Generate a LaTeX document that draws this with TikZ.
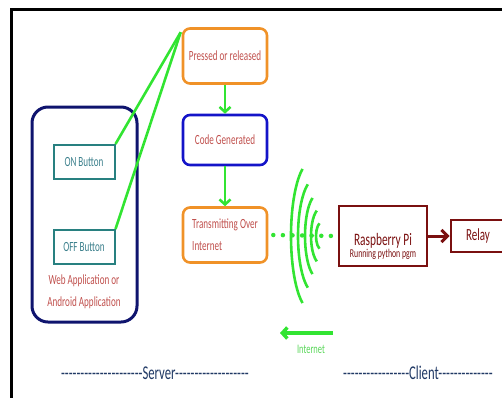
\documentclass[tikz,border=0pt]{standalone}
\usepackage{fontspec}
\setmainfont{Carlito}[FakeStretch=0.65]
\usetikzlibrary{arrows.meta}

\definecolor{boxorange}{RGB}{240,146,40}
\definecolor{codeblue}{RGB}{20,20,200}
\definecolor{appnavy}{RGB}{15,20,110}
\definecolor{btnteal}{RGB}{40,128,128}
\definecolor{btntext}{RGB}{60,128,140}
\definecolor{labelred}{RGB}{192,80,77}
\definecolor{netgreen}{RGB}{50,228,50}
\definecolor{nettext}{RGB}{90,215,90}
\definecolor{piered}{RGB}{122,16,16}
\definecolor{labelnavy}{RGB}{31,56,100}

\newcommand\dashrun[1]{\foreach \k in {1,...,#1}{-}}

\tikzset{
  flowbox/.style={draw,rounded corners=7pt,line width=2.6pt,
    minimum width=84pt,minimum height=55pt,text=labelred,
    font=\fontsize{14}{22}\selectfont},
  btnbox/.style={draw=btnteal,line width=2pt,minimum width=61pt,
    minimum height=34pt,text=btntext,font=\fontsize{14}{17}\selectfont},
  greenarrow/.style={draw=netgreen,line width=2.6pt,
    -{Straight Barb[length=5pt,width=11pt]}},
  greenline/.style={draw=netgreen,line width=2.6pt},
}

\begin{document}
\begin{tikzpicture}[x=1pt,y=-1pt]
	\useasboundingbox (0,0) rectangle (502,397);

	% frame
	\draw[line width=3pt] (11,400) -- (11,9) -- (505,9);

	% server side
	\draw[appnavy,line width=3pt,rounded corners=16pt] (32,107) rectangle (137,322);
	\node[btnbox] (on) at (84,162) {ON Button};
	\node[btnbox] (off) at (84,247) {OFF Button};
	\node[text=labelred,align=center,font=\fontsize{14}{22}\selectfont]
	  (webapp) at (84,292) {Web Application or\\Android Application};

	\node[flowbox,draw=boxorange] (press) at (225,56) {Pressed or released};
	\node[flowbox,draw=codeblue,minimum height=50pt] (code) at (225,140) {Code Generated};
	\node[flowbox,draw=boxorange,align=left] (trans) at (225,235) {Transmitting Over\\Internet};

	\draw[greenline] (on.north east) -- ([shift={(-1pt,-5pt)}]press.north west);
	\draw[greenline] (off.north east) -- ([shift={(-1pt,-5pt)}]press.north west);
	\draw[greenarrow] (press) -- (code);
	\draw[greenarrow] (code) -- (trans);

	% client side
	\node[draw=piered,line width=2.8pt,minimum width=88pt,minimum height=60pt] (rpi) at (383,236) {};
	\node[text=piered,align=center] (rpitext) at (383,246)
	  {{\fontsize{17.5}{16}\selectfont Raspberry Pi}\\{\fontsize{12}{14}\selectfont Running python pgm}};
	\node[draw=piered,line width=2.8pt,minimum width=54pt,minimum height=32pt,
	  text=piered,font=\fontsize{17}{20}\selectfont] (relay) at (478,236) {Relay};
	\draw[piered,line width=3pt,-{Straight Barb[length=6pt,width=12pt]}] (rpi) -- (relay);

	% signal
	\draw[netgreen,line width=4.5pt,line cap=round,dash pattern=on 0pt off 9.6pt]
	  ([xshift=5pt]trans.east) -- ([xshift=-3pt]rpi.west);
	\foreach \cx/\a/\b in {311/20/74,315/17/57,318/13/42,321/10/28,322/6/14}
	  \draw[netgreen,line width=2.6pt]
	    (\cx,236) ++(245:\a pt and \b pt)
	    arc[start angle=245,end angle=115,x radius=\a pt,y radius=\b pt];

	\coordinate (netR) at (333,333);
	\coordinate (netL) at (280,333);
	\draw[greenarrow,line width=3.5pt] (netR) -- (netL);
	\node[text=nettext,font=\fontsize{13}{15}\selectfont] (netlabel) at (311,349) {Internet};

	% labels
	\node[text=labelnavy,font=\fontsize{19.5}{22}\selectfont] (server) at (155,373)
	  {\dashrun{21}Server\dashrun{19}};
	\node[text=labelnavy,font=\fontsize{19.5}{22}\selectfont,anchor=west,inner xsep=0pt]
	  (client) at (343,373) {\dashrun{17}Client\dashrun{14}};

\end{tikzpicture}
\end{document}
